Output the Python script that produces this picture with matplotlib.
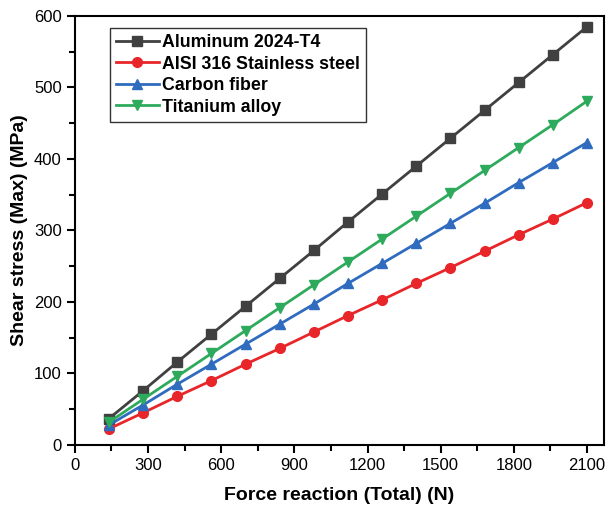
import numpy as np
import matplotlib.pyplot as plt
from matplotlib.ticker import MultipleLocator

plt.rcParams['font.family'] = ['Liberation Sans', 'DejaVu Sans']

force = [140, 280, 420, 560, 700, 840, 980, 1120, 1260, 1400, 1540, 1680, 1820, 1960, 2100]
aluminum = [37, 76, 116, 155, 194, 233, 272, 312, 351, 390, 429, 468, 507, 546, 585]
stainless = [22.6, 45, 68, 90, 113, 135, 158, 181, 203, 226, 248, 271, 294, 316, 339]
carbon = [28, 56, 85, 113, 141, 169, 197, 226, 254, 282, 310, 338, 367, 395, 423]
titanium = [32, 64, 96, 128, 160, 192, 224, 256, 288, 320, 352, 384, 416, 448, 481]

series = [
    ('Aluminum 2024-T4', aluminum, '#404040', 's'),
    ('AISI 316 Stainless steel', stainless, '#e8262a', 'o'),
    ('Carbon fiber', carbon, '#2f6bbf', '^'),
    ('Titanium alloy', titanium, '#2eaa5c', 'v'),
]

fig = plt.figure(figsize=(6.09, 5.15), dpi=100)
ax = fig.add_axes([0.123, 0.136, 0.869, 0.833])

for name, vals, col, mk in series:
    ax.plot(force, vals, color=col, marker=mk, markersize=7, linewidth=2, label=name)

ax.set_xlim(0, 2170)
ax.set_ylim(0, 600)
ax.xaxis.set_major_locator(MultipleLocator(300))
ax.xaxis.set_minor_locator(MultipleLocator(150))
ax.yaxis.set_major_locator(MultipleLocator(100))
ax.yaxis.set_minor_locator(MultipleLocator(50))
ax.tick_params(which='both', direction='out', width=1.5, labelsize=12)
ax.tick_params(which='major', length=6)
ax.tick_params(which='minor', length=4)
for s in ax.spines.values():
    s.set_linewidth(1.5)

ax.set_xlabel('Force reaction (Total) (N)', fontsize=14, fontweight='bold', labelpad=10)
ax.set_ylabel('Shear stress (Max) (MPa)', fontsize=14, fontweight='bold', labelpad=4)

leg = ax.legend(loc='upper left', bbox_to_anchor=(0.066, 0.972), borderaxespad=0,
                fancybox=False, edgecolor='black', prop={'weight': 'bold', 'size': 12.8},
                handlelength=2.4, handletextpad=0.2, labelspacing=0.25, borderpad=0.35)
leg.get_frame().set_linewidth(1.0)

plt.savefig('out.png', dpi=100)
